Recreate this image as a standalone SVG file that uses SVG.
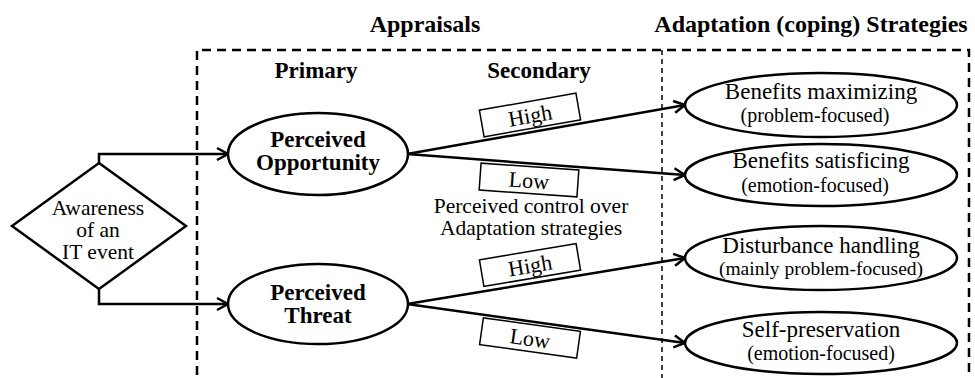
<svg xmlns="http://www.w3.org/2000/svg" width="975" height="378" viewBox="0 0 975 378">
<style>
.t{font-family:"Liberation Serif","Times New Roman",serif;fill:#000;text-anchor:middle}
.b{font-weight:bold;font-size:23px}
.r{font-size:23px}
.s{font-size:20px}
.shape{fill:#fff;stroke:#000;stroke-width:2.5}
.conn{fill:none;stroke:#000;stroke-width:2.5}
.box{fill:#fff;stroke:#000;stroke-width:1.5}
.dash{fill:none;stroke:#000;stroke-width:2.5;stroke-dasharray:9 6}
.dash2{fill:none;stroke:#000;stroke-width:1.5;stroke-dasharray:5 4}
</style>
<defs>
<marker id="arr" markerUnits="userSpaceOnUse" markerWidth="16" markerHeight="16" refX="13" refY="7" orient="auto" viewBox="0 0 16 14">
<path d="M2,1 L13,7 L2,13" fill="none" stroke="#000" stroke-width="2.5"/>
</marker>
</defs>

<g id="frame">
<path class="dash" d="M197,375 L197,50 L969,50 L969,375"/>
<path class="dash2" d="M662,50 L662,378"/>
</g>

<g id="headers">
<text class="t b" x="425" y="32" style="font-size:24px">Appraisals</text>
<text class="t b" x="811" y="32" style="font-size:24px">Adaptation (coping) Strategies</text>
<text class="t b" x="316" y="78">Primary</text>
<text class="t b" x="539" y="78">Secondary</text>
<text class="t r" x="531" y="213" style="font-size:21.5px">Perceived control over</text>
<text class="t r" x="531" y="235" style="font-size:21.5px">Adaptation strategies</text>
</g>

<g id="connectors">
<path class="conn" d="M99,163 L99,154 L228,154" marker-end="url(#arr)"/>
<path class="conn" d="M99,289 L99,304 L228,304" marker-end="url(#arr)"/>
<path class="conn" d="M407,154 L685,105" marker-end="url(#arr)"/>
<path class="conn" d="M407,154 L685,175" marker-end="url(#arr)"/>
<path class="conn" d="M407,304 L685,258" marker-end="url(#arr)"/>
<path class="conn" d="M407,304 L685,343" marker-end="url(#arr)"/>
</g>

<g id="awareness">
<polygon class="shape" points="99,163 186,226 99,289 12,226"/>
<text class="t r" x="98" y="215" style="font-size:21.5px">Awareness</text>
<text class="t r" x="98" y="237" style="font-size:21.5px">of an</text>
<text class="t r" x="98" y="259" style="font-size:21.5px">IT event</text>
</g>

<g id="opportunity">
<ellipse class="shape" cx="318" cy="154" rx="90" ry="41"/>
<text class="t b" x="318" y="147">Perceived</text>
<text class="t b" x="318" y="170">Opportunity</text>
</g>

<g id="threat">
<ellipse class="shape" cx="318" cy="304" rx="90" ry="40"/>
<text class="t b" x="318" y="300">Perceived</text>
<text class="t b" x="318" y="323">Threat</text>
</g>

<g id="label-opp-high" transform="translate(530,115) rotate(-10)">
<rect class="box" x="-49" y="-13.5" width="98" height="27"/>
<text class="t r" x="0" y="8" style="font-size:22px">High</text>
</g>
<g id="label-opp-low" transform="translate(529,180) rotate(4)">
<rect class="box" x="-49" y="-13.5" width="98" height="27"/>
<text class="t r" x="0" y="8" style="font-size:22px">Low</text>
</g>
<g id="label-thr-high" transform="translate(530,265) rotate(-9.5)">
<rect class="box" x="-49" y="-13.5" width="98" height="27"/>
<text class="t r" x="0" y="8" style="font-size:22px">High</text>
</g>
<g id="label-thr-low" transform="translate(530,338) rotate(8)">
<rect class="box" x="-49" y="-13.5" width="98" height="27"/>
<text class="t r" x="0" y="8" style="font-size:22px">Low</text>
</g>

<g id="benefits-max">
<ellipse class="shape" cx="821" cy="105" rx="136" ry="32"/>
<text class="t r" x="821" y="99">Benefits maximizing</text>
<text class="t s" x="815" y="122">(problem-focused)</text>
</g>
<g id="benefits-sat">
<ellipse class="shape" cx="821" cy="175" rx="136" ry="31"/>
<text class="t r" x="821" y="168">Benefits satisficing</text>
<text class="t s" x="815" y="192">(emotion-focused)</text>
</g>
<g id="disturbance">
<ellipse class="shape" cx="821" cy="258" rx="136" ry="32"/>
<text class="t r" x="821" y="253">Disturbance handling</text>
<text class="t s" x="821" y="275" style="font-size:19.5px">(mainly problem-focused)</text>
</g>
<g id="self-preservation">
<ellipse class="shape" cx="821" cy="343" rx="136" ry="31"/>
<text class="t r" x="821" y="337">Self-preservation</text>
<text class="t s" x="821" y="360">(emotion-focused)</text>
</g>
</svg>
